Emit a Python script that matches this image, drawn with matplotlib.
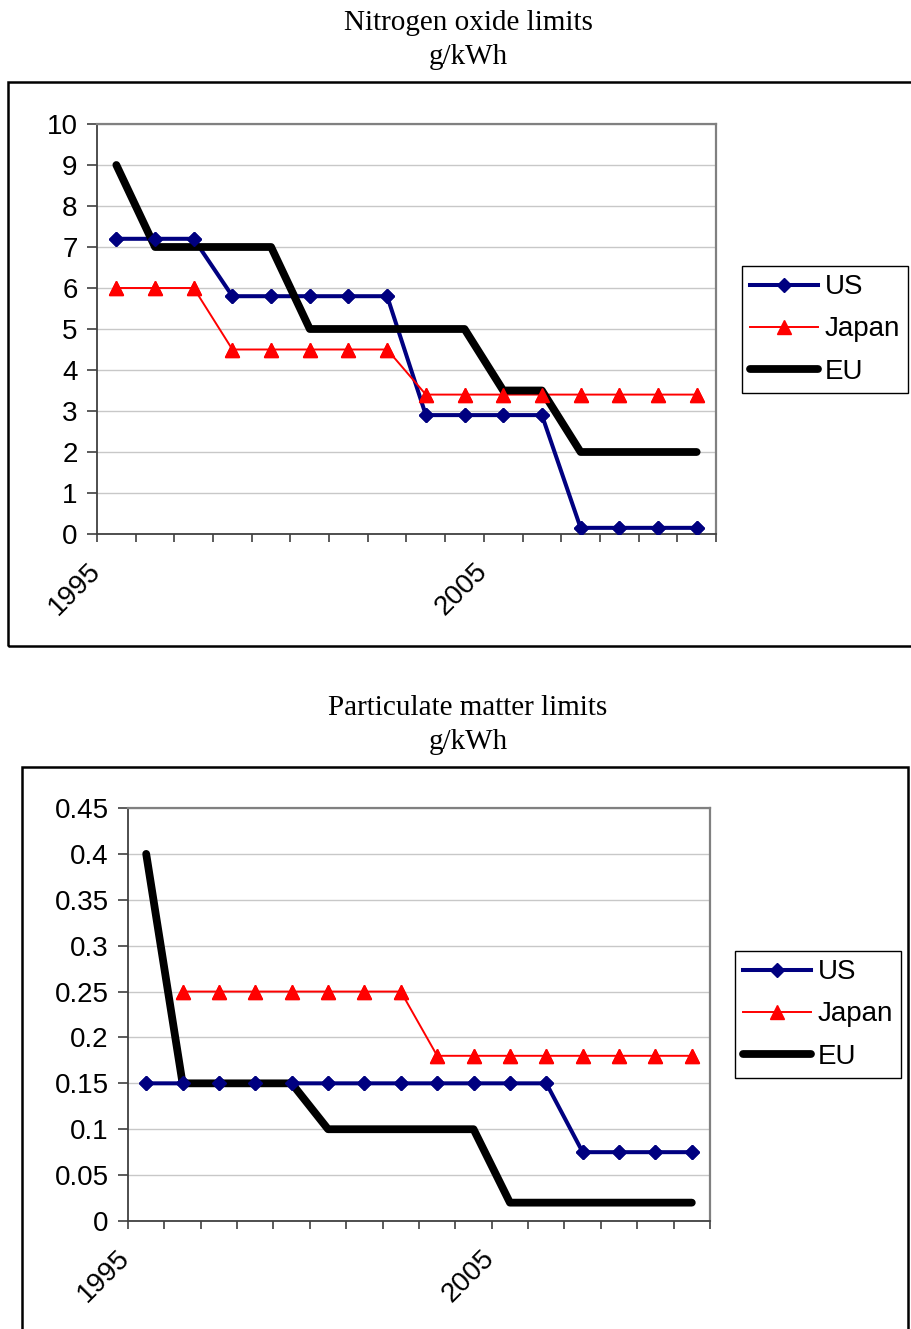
import matplotlib.pyplot as plt
import numpy as np
from matplotlib.patches import Rectangle
from matplotlib.transforms import ScaledTranslation

plt.rcParams['font.family'] = ['Liberation Sans', 'DejaVu Sans']

# 1. Data (1995 .. 2010, one value per year)
years = list(range(1995, 2011))
labelled_years = [1995, 2005]

nox_us = [7.2, 7.2, 7.2, 5.8, 5.8, 5.8, 5.8, 5.8, 2.9, 2.9, 2.9, 2.9, 0.15, 0.15, 0.15, 0.15]
nox_japan = [6, 6, 6, 4.5, 4.5, 4.5, 4.5, 4.5, 3.4, 3.4, 3.4, 3.4, 3.4, 3.4, 3.4, 3.4]
nox_eu = [9, 7, 7, 7, 7, 5, 5, 5, 5, 5, 3.5, 3.5, 2, 2, 2, 2]
nox_ticks = [0, 1, 2, 3, 4, 5, 6, 7, 8, 9, 10]
nox_tick_labels = ['0', '1', '2', '3', '4', '5', '6', '7', '8', '9', '10']

pm_us = [0.15, 0.15, 0.15, 0.15, 0.15, 0.15, 0.15, 0.15, 0.15, 0.15, 0.15, 0.15, 0.075, 0.075, 0.075, 0.075]
pm_japan = [np.nan, 0.25, 0.25, 0.25, 0.25, 0.25, 0.25, 0.25, 0.18, 0.18, 0.18, 0.18, 0.18, 0.18, 0.18, 0.18]
pm_eu = [0.4, 0.15, 0.15, 0.15, 0.15, 0.1, 0.1, 0.1, 0.1, 0.1, 0.02, 0.02, 0.02, 0.02, 0.02, 0.02]
pm_ticks = [0, 0.05, 0.1, 0.15, 0.2, 0.25, 0.3, 0.35, 0.4, 0.45]
pm_tick_labels = ['0', '0.05', '0.1', '0.15', '0.2', '0.25', '0.3', '0.35', '0.4', '0.45']

W, H = 912, 1329
fig = plt.figure(figsize=(W / 100, H / 100), dpi=100)


def px_box(left, top, right, bottom):
    # pixel box -> figure fraction [l, b, w, h]
    return [left / W, 1 - bottom / H, (right - left) / W, (bottom - top) / H]


def draw_panel(ax, us, japan, eu, ticks, tick_labels, legend_xy):
    x = np.arange(len(years))
    ax.plot(x, us, color='#000080', lw=2.9, marker='D', ms=7.5, label='US', zorder=3)
    ax.plot(x, japan, color='#ff0000', lw=1.4, marker='^', ms=10.5, label='Japan', zorder=3)
    ax.plot(x, eu, color='black', lw=5.6, solid_capstyle='round', label='EU', zorder=4)
    # markers sit above all lines, like in Excel
    ax.plot(x, us, ls='none', color='#000080', marker='D', ms=7.5, zorder=5)
    ax.plot(x, japan, ls='none', color='#ff0000', marker='^', ms=10.5, zorder=5)

    ax.set_xlim(-0.5, len(years) - 0.5)
    ax.set_ylim(ticks[0], ticks[-1])
    ax.set_yticks(ticks)
    ax.set_yticklabels(tick_labels)
    ax.tick_params(axis='y', direction='out', length=7, width=1.2, color='#404040',
                   labelsize=20, pad=7)

    # category boundaries carry the tick marks, labels sit on the category centres
    ax.set_xticks(np.arange(len(years) + 1) - 0.5)
    ax.set_xticklabels([])
    ax.set_xticks([years.index(y) for y in labelled_years], minor=True)
    ax.set_xticklabels([str(y) for y in labelled_years], minor=True,
                       rotation=45, ha='right', va='center', rotation_mode='anchor')
    ax.tick_params(axis='x', which='major', direction='out', length=6, width=1.2, color='#404040')
    ax.tick_params(axis='x', which='minor', length=0, labelsize=20, pad=24)
    shift = ScaledTranslation(-20 / 100, 0, fig.dpi_scale_trans)
    for lbl in ax.get_xticklabels(minor=True):
        lbl.set_transform(lbl.get_transform() + shift)

    ax.grid(axis='y', color='#c8c8c8', lw=1)
    ax.set_axisbelow(True)
    for side in ['left', 'bottom']:
        ax.spines[side].set_color('#404040')
        ax.spines[side].set_linewidth(1.3)
    for side in ['top', 'right']:
        ax.spines[side].set_color('#808080')
        ax.spines[side].set_linewidth(1.6)

    handles, labels = ax.get_legend_handles_labels()
    leg = ax.legend(handles[:3], labels[:3], loc='upper left',
                    bbox_to_anchor=(legend_xy[0] / W, 1 - legend_xy[1] / H),
                    bbox_transform=fig.transFigure, borderaxespad=0,
                    fontsize=20, handlelength=2.45, handletextpad=0.22,
                    borderpad=0.3, labelspacing=0.58, fancybox=False,
                    framealpha=1, edgecolor='black')
    leg.get_frame().set_linewidth(1.0)


#2. Outer chart boxes and titles
fig.patches.append(Rectangle((8 / W, 1 - 646 / H), (930 - 8) / W, (646 - 82) / H,
                             transform=fig.transFigure, fill=False, ec='black', lw=1.8))
fig.patches.append(Rectangle((22 / W, 1 - 1345 / H), (908 - 22) / W, (1345 - 767) / H,
                             transform=fig.transFigure, fill=False, ec='black', lw=1.8))

title_font = dict(family=['Liberation Serif', 'DejaVu Serif'], fontsize=21, ha='center', va='center')
fig.text(468 / W, 1 - 23 / H, 'Nitrogen oxide limits', **title_font)
fig.text(468 / W, 1 - 57 / H, 'g/kWh', **title_font)
fig.text(468 / W, 1 - 708 / H, 'Particulate matter limits', **title_font)
fig.text(468 / W, 1 - 742 / H, 'g/kWh', **title_font)

#3. Panels
ax1 = fig.add_axes(px_box(97, 124, 716, 534))
draw_panel(ax1, nox_us, nox_japan, nox_eu, nox_ticks, nox_tick_labels, (742, 266))

ax2 = fig.add_axes(px_box(128, 808, 710, 1221))
draw_panel(ax2, pm_us, pm_japan, pm_eu, pm_ticks, pm_tick_labels, (735, 951))

fig.savefig('out.png', dpi=100)
